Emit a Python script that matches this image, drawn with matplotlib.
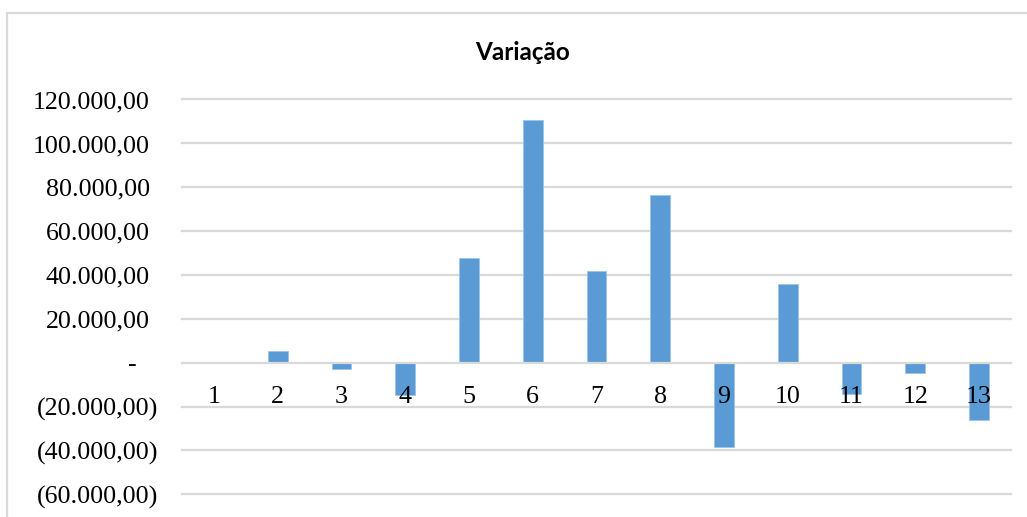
import matplotlib.pyplot as plt
from matplotlib.patches import Rectangle
from matplotlib.transforms import ScaledTranslation

# variação por período
periodos = list(range(1, 14))
periodo_labels = [str(p) for p in periodos]
variacao = [0, 5300, -2900, -14700, 47600, 110400, 41600, 76300,
            -38600, 35900, -14300, -4600, -26100]

y_ticks = [-60000, -40000, -20000, 0, 20000, 40000, 60000, 80000, 100000, 120000]
y_labels = ['(60.000,00)', '(40.000,00)', '(20.000,00)', '-', '20.000,00',
            '40.000,00', '60.000,00', '80.000,00', '100.000,00', '120.000,00']

W, H = 1027, 517
serif = 'Liberation Serif'
azul = '#5b9bd5'
cinza = '#d9d9d9'

fig = plt.figure(figsize=(W / 100, H / 100), dpi=100)
ax = fig.add_axes([182 / W, 1 - 494.3 / H, 829 / W, (494.3 - 99.3) / H])

ax.bar(periodos, variacao, width=0.31, color=azul, edgecolor='#9dc3e6',
       linewidth=0.6, zorder=2)

# grade horizontal
for t in y_ticks:
    ax.axhline(t, color=cinza, lw=1.6, zorder=1 if t != 0 else 3, clip_on=False)

ax.set_xlim(0.5, 13.5)
ax.set_ylim(-60000, 120000)
ax.set_xticks([])
ax.set_yticks([])
for s in ax.spines.values():
    s.set_visible(False)

# rótulos do eixo y (formato contábil)
ytrans = ax.get_yaxis_transform() + ScaledTranslation(0, -0.088, fig.dpi_scale_trans)
for t, lab in zip(y_ticks, y_labels):
    if lab.startswith('('):
        x = (158.5 - 182) / 829
    elif lab == '-':
        x = (137 - 182) / 829
    else:
        x = (150 - 182) / 829
    ax.text(x, t, lab, transform=ytrans, ha='right', va='baseline',
            fontsize=18.7, family=serif, color='#000000', clip_on=False)

# rótulos das categorias junto ao eixo zero
xtrans = ax.transData + ScaledTranslation(0, -0.406, fig.dpi_scale_trans)
for p, lab in zip(periodos, periodo_labels):
    ax.text(p, 0, lab, transform=xtrans, ha='center', va='baseline',
            fontsize=18.7, family=serif, color='#000000', zorder=5)

fig.text(523 / W, 1 - 60 / H, 'Variação', ha='center', va='baseline',
         fontsize=17.5, fontweight='bold', family='Lato', color='#000000')

# moldura da área do gráfico
fig.add_artist(Rectangle((7 / W, -0.2), 1.2, 0.2 + 1 - 13 / H,
                         transform=fig.transFigure, fill=False,
                         edgecolor=cinza, lw=1.6))

fig.savefig('out.png', dpi=100)
